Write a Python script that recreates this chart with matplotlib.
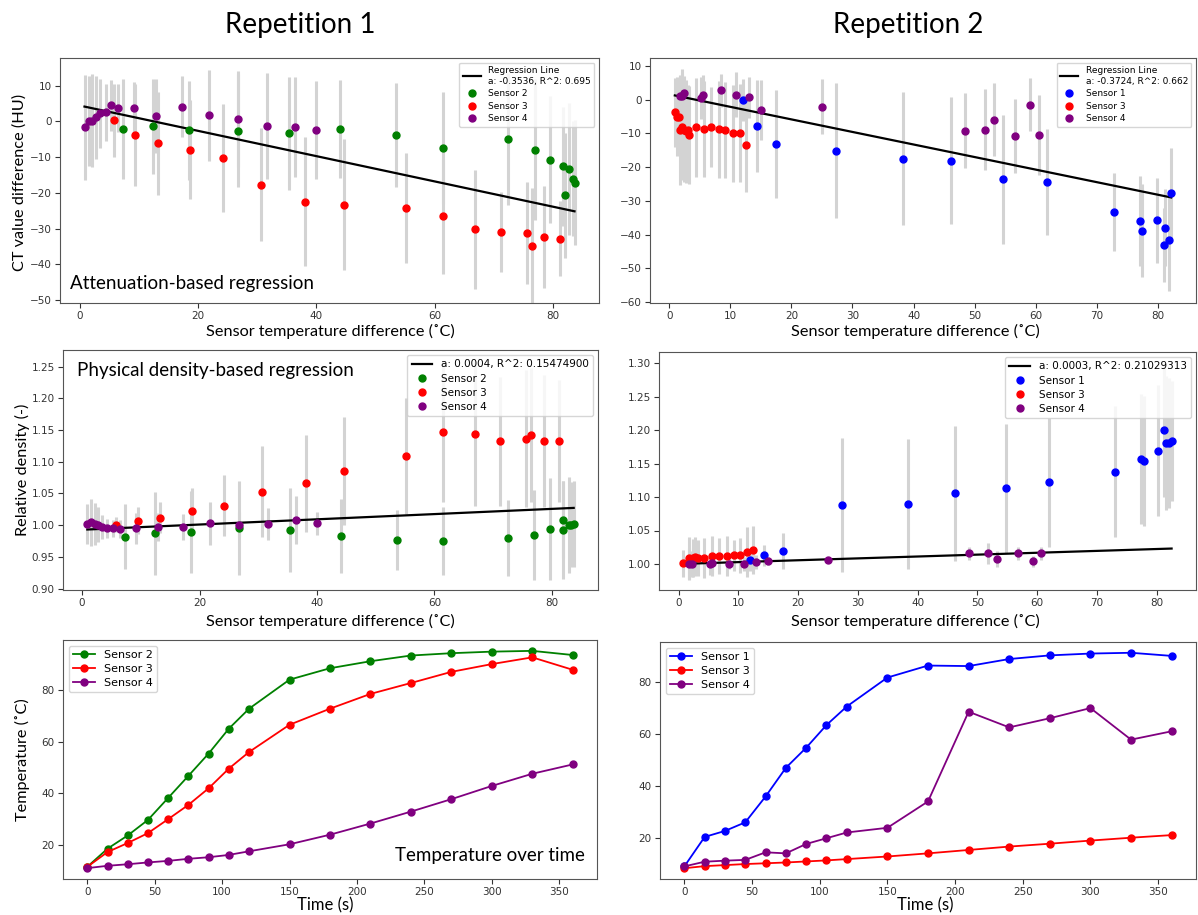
import matplotlib
matplotlib.use("Agg")
import matplotlib.pyplot as plt
import numpy as np

W, H = 1198, 915
SANS = ["Lato", "DejaVu Sans"]

# ---- Repetition 1, CT value difference (HU) vs sensor temperature difference
r1_ct_s2_x = [7.3, 12.4, 18.4, 26.7, 35.3, 43.9, 53.5, 61.3, 72.4, 76.9, 79.5, 81.7, 82.0, 82.6, 83.3, 83.6]
r1_ct_s2_y = [-2.2, -1.4, -2.5, -2.6, -3.4, -2.1, -3.8, -7.4, -4.9, -7.9, -10.7, -12.6, -20.7, -13.4, -16.1, -17.2]
r1_ct_s2_e = [14.0, 13.2, 13.8, 15.7, 15.7, 13.7, 14.5, 15.7, 18.5, 19.6, 17.7, 16.6, 17.4, 18.5, 16.1, 17.5]
r1_ct_s3_x = [5.8, 9.4, 13.2, 18.6, 24.2, 30.6, 38.1, 44.6, 55.1, 61.3, 66.8, 71.2, 75.6, 76.4, 78.5, 81.2]
r1_ct_s3_y = [0.3, -3.8, -6.2, -7.9, -10.2, -17.8, -22.5, -23.3, -24.3, -26.6, -30.2, -31.0, -31.2, -34.9, -32.4, -32.8]
r1_ct_s3_e = [10.2, 14.3, 14.5, 13.9, 15.1, 15.8, 18.0, 18.3, 15.4, 16.2, 16.7, 11.2, 14.3, 16.3, 14.2, 10.5]
r1_ct_s4_x = [0.8, 1.6, 2.1, 2.8, 3.5, 4.4, 5.3, 6.5, 9.2, 12.9, 17.2, 21.8, 26.7, 31.6, 36.4, 40.0]
r1_ct_s4_y = [-1.7, 0.1, 0.1, 1.1, 2.2, 2.5, 4.5, 3.8, 3.8, 1.4, 4.1, 1.7, 0.7, -1.4, -1.6, -2.4]
r1_ct_s4_e = [14.7, 12.7, 13.0, 11.5, 9.7, 7.9, 7.1, 6.7, 7.2, 10.4, 8.6, 12.7, 13.5, 14.8, 13.9, 13.8]
r1_ct_fit = (-0.3536, 4.4)

# ---- Repetition 2, CT value difference (HU)
r2_ct_s1_x = [12.0, 14.4, 17.4, 27.3, 38.3, 46.1, 54.7, 61.9, 72.8, 77.1, 77.5, 79.9, 81.0, 81.2, 81.9, 82.2]
r2_ct_s1_y = [0.0, -7.8, -13.1, -15.1, -17.5, -18.1, -23.6, -24.4, -33.3, -36.0, -38.8, -35.8, -43.1, -37.9, -41.7, -27.7]
r2_ct_s1_e = [6.2, 13.7, 16.0, 20.0, 19.8, 18.8, 19.2, 15.8, 11.6, 13.4, 13.7, 12.6, 10.9, 11.3, 15.0, 13.3]
r2_ct_s3_x = [0.9, 1.25, 1.6, 1.8, 2.15, 2.45, 2.75, 3.0, 3.3, 4.35, 5.6, 6.9, 8.1, 9.2, 10.45, 11.6, 12.55]
r2_ct_s3_y = [-3.7, -5.0, -5.0, -9.0, -8.1, -9.1, -9.3, -9.1, -10.5, -8.1, -8.6, -8.1, -8.8, -9.0, -10.0, -9.9, -13.5]
r2_ct_s3_e = [10.3, 11.7, 11.5, 16.3, 15.8, 15.2, 15.3, 13.6, 14.5, 14.7, 14.2, 11.8, 14.5, 14.3, 14.5, 14.5, 14.0]
r2_ct_s4_x = [1.75, 2.1, 2.45, 5.2, 5.5, 8.5, 10.9, 13.0, 14.95, 24.95, 48.5, 51.7, 53.2, 56.6, 59.1, 60.5]
r2_ct_s4_y = [1.0, 1.2, 2.1, 0.5, 1.5, 2.8, 1.5, 0.7, -3.1, -2.1, -9.2, -8.9, -5.9, -10.8, -1.4, -10.5]
r2_ct_s4_e = [6.0, 8.0, 5.0, 6.3, 6.0, 5.0, 6.6, 6.0, 8.9, 8.2, 11.1, 12.0, 10.8, 10.9, 8.0, 11.8]
r2_ct_fit = (-0.3724, 1.63)

# ---- Repetition 1, relative density (-)
r1_rd_s2_x = [7.3, 12.4, 18.5, 26.7, 35.4, 44.1, 53.6, 61.4, 72.5, 76.9, 79.6, 81.8, 81.9, 82.9, 83.3, 83.7]
r1_rd_s2_y = [0.982, 0.987, 0.989, 0.995, 0.992, 0.983, 0.977, 0.975, 0.980, 0.985, 0.994, 0.993, 1.009, 1.000, 1.001, 1.002]
r1_rd_s2_e = [0.051, 0.065, 0.065, 0.074, 0.066, 0.058, 0.047, 0.054, 0.060, 0.071, 0.080, 0.077, 0.060, 0.076, 0.067, 0.068]
r1_rd_s3_x = [5.8, 9.5, 13.2, 18.7, 24.2, 30.7, 38.1, 44.6, 55.2, 61.4, 66.9, 71.2, 75.6, 76.5, 78.6, 81.2]
r1_rd_s3_y = [1.001, 1.007, 1.012, 1.023, 1.031, 1.053, 1.066, 1.086, 1.109, 1.147, 1.144, 1.132, 1.136, 1.142, 1.133, 1.133]
r1_rd_s3_e = [0.012, 0.021, 0.025, 0.036, 0.048, 0.072, 0.076, 0.085, 0.091, 0.111, 0.113, 0.102, 0.108, 0.106, 0.104, 0.096]
r1_rd_s4_x = [0.9, 1.6, 2.2, 2.7, 3.4, 4.3, 5.3, 6.5, 9.2, 12.9, 17.2, 21.8, 26.7, 31.6, 36.4, 40.0]
r1_rd_s4_y = [1.002, 1.005, 1.002, 1.001, 0.997, 0.995, 0.995, 0.994, 0.995, 0.997, 0.997, 1.003, 1.001, 1.002, 1.008, 1.003]
r1_rd_s4_e = [0.031, 0.037, 0.033, 0.027, 0.019, 0.015, 0.014, 0.014, 0.024, 0.022, 0.020, 0.034, 0.020, 0.025, 0.038, 0.018]
r1_rd_fit = (0.000411, 0.9929)

# ---- Repetition 2, relative density (-)
r2_rd_s1_x = [11.9, 14.3, 17.4, 27.4, 38.4, 46.2, 54.8, 62.0, 73.0, 77.3, 77.8, 80.2, 81.3, 81.6, 82.0, 82.5]
r2_rd_s1_y = [1.006, 1.013, 1.020, 1.088, 1.090, 1.106, 1.113, 1.122, 1.138, 1.157, 1.154, 1.169, 1.200, 1.181, 1.181, 1.184]
r2_rd_s1_e = [0.016, 0.016, 0.027, 0.100, 0.097, 0.101, 0.096, 0.097, 0.098, 0.097, 0.097, 0.098, 0.100, 0.100, 0.097, 0.090]
r2_rd_s3_x = [0.8, 1.7, 2.35, 2.8, 3.2, 4.3, 5.6, 6.8, 8.05, 9.2, 10.35, 11.5, 12.5]
r2_rd_s3_y = [1.001, 1.009, 1.009, 1.011, 1.009, 1.009, 1.012, 1.012, 1.012, 1.013, 1.013, 1.018, 1.021]
r2_rd_s3_e = [0.020, 0.032, 0.028, 0.029, 0.027, 0.030, 0.030, 0.027, 0.030, 0.023, 0.026, 0.037, 0.036]
r2_rd_s4_x = [1.7, 2.2, 5.2, 5.6, 8.5, 10.9, 13.0, 14.9, 25.0, 48.6, 51.8, 53.3, 56.8, 59.3, 60.7]
r2_rd_s4_y = [1.000, 1.000, 1.000, 1.001, 1.000, 1.000, 1.003, 1.004, 1.006, 1.016, 1.016, 1.008, 1.016, 1.004, 1.016]
r2_rd_s4_e = [0.024, 0.020, 0.017, 0.015, 0.008, 0.010, 0.010, 0.006, 0.005, 0.010, 0.016, 0.012, 0.010, 0.008, 0.010]
r2_rd_fit = (0.00028, 0.9999)

# ---- Temperature over time (deg C)
time_s = [0, 15, 30, 45, 60, 75, 90, 105, 120, 150, 180, 210, 240, 270, 300, 330, 360]
r1_temp_s2 = [11.7, 18.7, 23.8, 29.8, 38.3, 46.8, 55.4, 65.0, 72.7, 83.9, 88.3, 91.0, 93.2, 94.1, 94.7, 95.0, 93.4]
r1_temp_s3 = [11.7, 17.4, 20.9, 24.7, 30.1, 35.6, 42.0, 49.6, 56.0, 66.5, 72.7, 78.4, 82.6, 86.9, 89.9, 92.5, 87.7]
r1_temp_s4 = [11.2, 12.1, 12.7, 13.4, 14.0, 14.8, 15.4, 16.3, 17.7, 20.4, 24.1, 28.4, 33.0, 37.8, 42.9, 47.6, 51.2]
r2_temp_s1 = [9.3, 20.6, 22.9, 26.2, 36.1, 47.1, 54.8, 63.5, 70.6, 81.7, 86.3, 86.1, 88.8, 90.2, 90.9, 91.2, 90.0]
r2_temp_s3 = [8.6, 9.4, 9.8, 10.2, 10.5, 10.8, 11.2, 11.6, 12.1, 13.1, 14.3, 15.6, 16.9, 18.0, 19.2, 20.3, 21.3]
r2_temp_s4 = [9.3, 11.1, 11.5, 11.8, 14.7, 14.3, 17.9, 20.1, 22.3, 24.1, 34.2, 68.6, 62.6, 66.1, 70.0, 57.9, 61.1]

XLAB_T = "Sensor temperature difference (\u02daC)"


def box(l, t, r, b):
    return [l / W, 1 - b / H, (r - l) / W, (b - t) / H]


def ftext(x, y, s, **kw):
    fig.text(x / W, 1 - y / H, s, family=SANS, **kw)


def style(ax):
    ax.tick_params(labelsize=7.5, length=3.5, width=0.8, pad=2.5, colors="#333333")
    for sp in ax.spines.values():
        sp.set_color("#555555")


def regression_panel(ax, series, fit, fit_label, leg_size):
    a, b = fit
    handles = []
    allx = np.concatenate([np.asarray(s[0]) for s in series])
    xl = np.array([allx.min(), allx.max()])
    for x, y, e, c, lab in series:
        ax.errorbar(x, y, yerr=e, fmt="none", ecolor="lightgray", elinewidth=2.2, zorder=1)
    ln, = ax.plot(xl, a * xl + b, color="black", lw=1.6, zorder=2, label=fit_label)
    handles.append(ln)
    for x, y, e, c, lab in series:
        h, = ax.plot(x, y, "o", color=c, ms=5, zorder=3, label=lab)
        handles.append(h)
    ax.legend(handles=handles, loc="upper right", fontsize=leg_size,
              borderpad=0.4, labelspacing=0.4, handlelength=2.0)
    style(ax)


def time_panel(ax, series):
    for y, c, lab in series:
        ax.plot(time_s, y, "o-", color=c, ms=5, lw=1.3, label=lab)
    ax.set_xticks(range(0, 351, 50))
    ax.legend(loc="upper left", fontsize=8, borderpad=0.4, labelspacing=0.35)
    style(ax)


fig = plt.figure(figsize=(W / 100, H / 100), dpi=100)

axA = fig.add_axes(box(60, 58, 599, 303))
regression_panel(axA, [(r1_ct_s2_x, r1_ct_s2_y, r1_ct_s2_e, "green", "Sensor 2"),
                       (r1_ct_s3_x, r1_ct_s3_y, r1_ct_s3_e, "red", "Sensor 3"),
                       (r1_ct_s4_x, r1_ct_s4_y, r1_ct_s4_e, "purple", "Sensor 4")],
                 r1_ct_fit, "Regression Line\na: -0.3536, R^2: 0.695", 6.5)
axA.set_ylim(-50.8, 17.7)
axA.set_xticks(range(0, 81, 20))

axB = fig.add_axes(box(650, 58, 1196, 303))
regression_panel(axB, [(r2_ct_s1_x, r2_ct_s1_y, r2_ct_s1_e, "blue", "Sensor 1"),
                       (r2_ct_s3_x, r2_ct_s3_y, r2_ct_s3_e, "red", "Sensor 3"),
                       (r2_ct_s4_x, r2_ct_s4_y, r2_ct_s4_e, "purple", "Sensor 4")],
                 r2_ct_fit, "Regression Line\na: -0.3724, R^2: 0.662", 6.5)
axB.set_ylim(-60.3, 12.4)
axB.set_xticks(range(0, 81, 10))

axC = fig.add_axes(box(63, 350, 598, 590))
regression_panel(axC, [(r1_rd_s2_x, r1_rd_s2_y, r1_rd_s2_e, "green", "Sensor 2"),
                       (r1_rd_s3_x, r1_rd_s3_y, r1_rd_s3_e, "red", "Sensor 3"),
                       (r1_rd_s4_x, r1_rd_s4_y, r1_rd_s4_e, "purple", "Sensor 4")],
                 r1_rd_fit, "a: 0.0004, R^2: 0.15474900", 7.5)
axC.set_ylim(0.898, 1.276)
axC.set_xticks(range(0, 81, 20))

axD = fig.add_axes(box(659, 352, 1196, 590))
regression_panel(axD, [(r2_rd_s1_x, r2_rd_s1_y, r2_rd_s1_e, "blue", "Sensor 1"),
                       (r2_rd_s3_x, r2_rd_s3_y, r2_rd_s3_e, "red", "Sensor 3"),
                       (r2_rd_s4_x, r2_rd_s4_y, r2_rd_s4_e, "purple", "Sensor 4")],
                 r2_rd_fit, "a: 0.0003, R^2: 0.21029313", 7.5)
axD.set_ylim(0.961, 1.317)
axD.set_xticks(range(0, 81, 10))

axE = fig.add_axes(box(63, 640, 597, 879))
time_panel(axE, [(r1_temp_s2, "green", "Sensor 2"),
                 (r1_temp_s3, "red", "Sensor 3"),
                 (r1_temp_s4, "purple", "Sensor 4")])

axF = fig.add_axes(box(660, 642, 1196, 879))
time_panel(axF, [(r2_temp_s1, "blue", "Sensor 1"),
                 (r2_temp_s3, "red", "Sensor 3"),
                 (r2_temp_s4, "purple", "Sensor 4")])

# headings and axis labels laid over the panels
ftext(300, 25, "Repetition 1", fontsize=20, ha="center", va="center")
ftext(908, 25, "Repetition 2", fontsize=20, ha="center", va="center")

ftext(330, 331, XLAB_T, fontsize=11.7, ha="center", va="center")
ftext(915, 331, XLAB_T, fontsize=11.7, ha="center", va="center")
ftext(330, 621, XLAB_T, fontsize=11.7, ha="center", va="center")
ftext(915, 621, XLAB_T, fontsize=11.7, ha="center", va="center")
ftext(325, 905, "Time (s)", fontsize=12, ha="center", va="center")
ftext(925, 905, "Time (s)", fontsize=12, ha="center", va="center")

ftext(20, 182, "CT value difference (HU)", fontsize=11.7, ha="center", va="center", rotation=90)
ftext(22, 470, "Relative density (-)", fontsize=11.7, ha="center", va="center", rotation=90)
ftext(22, 760, "Temperature (\u02daC)", fontsize=11.7, ha="center", va="center", rotation=90)

ftext(70, 284, "Attenuation-based regression", fontsize=13.5, ha="left", va="center")
ftext(77, 371, "Physical density-based regression", fontsize=13.5, ha="left", va="center")
ftext(585, 856, "Temperature over time", fontsize=13.5, ha="right", va="center")

fig.savefig("out.png", dpi=100)
